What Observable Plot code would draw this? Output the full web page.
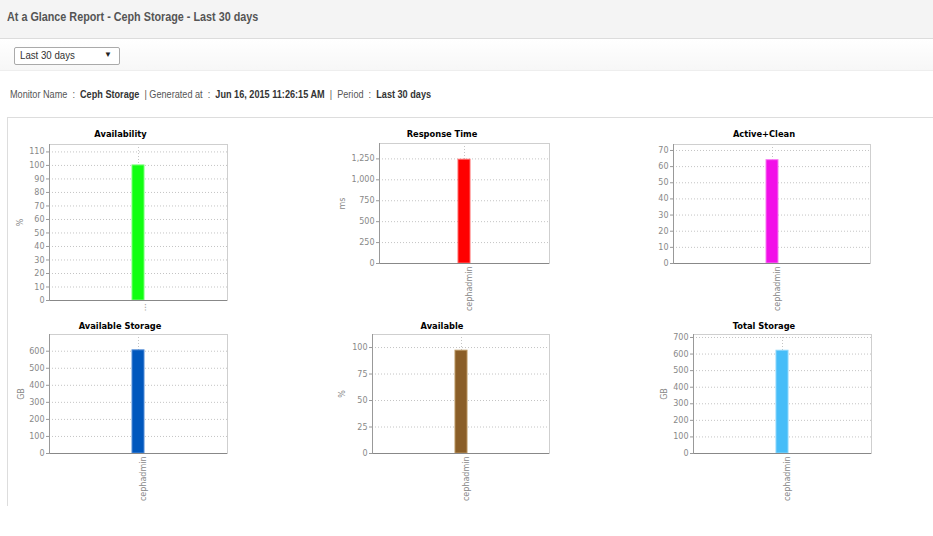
<!DOCTYPE html>
<html>
<head>
<meta charset="utf-8">
<script src="https://cdn.jsdelivr.net/npm/d3@7"></script>
<script src="https://cdn.jsdelivr.net/npm/@observablehq/plot@0.6"></script>
<style>
  html, body { margin: 0; padding: 0; background: #fff; width: 933px; height: 536px; overflow: hidden; position: relative; font-family: "Liberation Sans", Arial, sans-serif; }
  .abs { position: absolute; }
  .sq { display: inline-block; transform-origin: 0 50%; }
  #header { left: 0; top: 0; width: 933px; height: 38px; background: #f4f4f4; border-bottom: 1px solid #dcdcdc; }
  #htitle { left: 7px; top: 9px; font-size: 13px; font-weight: bold; color: #555; white-space: nowrap; transform: scaleX(0.83); }
  #band { left: 0; top: 39px; width: 933px; height: 31px; background: linear-gradient(#ffffff, #f7f7f7); border-bottom: 1px solid #eee; }
  #select { left: 14px; top: 47px; width: 104px; height: 16px; border: 1px solid #aaa; border-radius: 2px; background: #fff; font-size: 11px; color: #333; }
  #select span.t { position: absolute; left: 5px; top: 1px; transform: scaleX(0.88); transform-origin: 0 50%; white-space: nowrap; }
  #select span.a { position: absolute; right: 7px; top: 2px; font-size: 8px; color: #222; }
  #meta { left: 10px; top: 88px; font-size: 11px; color: #555; white-space: nowrap; transform: scaleX(0.83); }
  #meta b { color: #333; }
  #panel { left: 7px; top: 117px; width: 926px; height: 388px; border-left: 1px solid #ddd; border-top: 1px solid #ddd; }
  .ctitle { font-family: "DejaVu Sans", Verdana, sans-serif; font-weight: bold; font-size: 8.3px; color: #000; text-align: center; width: 200px; line-height: 12px; }
  svg.chart { position: absolute; background: transparent; overflow: visible; }
</style>
</head>
<body>
<div id="header" class="abs"></div>
<div id="htitle" class="abs sq">At a Glance Report - Ceph Storage - Last 30 days</div>
<div id="band" class="abs"></div>
<div id="select" class="abs"><span class="t">Last 30 days</span><span class="a">▼</span></div>
<div id="meta" class="abs sq">Monitor Name&nbsp; : &nbsp;<b>Ceph Storage</b>&nbsp; | Generated at&nbsp; : &nbsp;<b>Jun 16, 2015 11:26:15 AM</b>&nbsp; | &nbsp;Period&nbsp; : &nbsp;<b>Last 30 days</b></div>
<div id="panel" class="abs"></div>
<script>
// ---- data ----
const chartTitles = ["Availability", "Response Time", "Active+Clean", "Available Storage", "Available", "Total Storage"];
const unitLabels = ["%", "ms", "", "GB", "%", "GB"];
const hostLabels = ["...", "cephadmin", "cephadmin", "cephadmin", "cephadmin", "cephadmin"];
const barValues = [100, 1240, 64, 605, 97, 620];
const yDomainMax = [115.5, 1434, 73.7, 698, 112.3, 718];
const yTicks = [
  [0, 10, 20, 30, 40, 50, 60, 70, 80, 90, 100, 110],
  [0, 250, 500, 750, 1000, 1250],
  [0, 10, 20, 30, 40, 50, 60, 70],
  [0, 100, 200, 300, 400, 500, 600],
  [0, 25, 50, 75, 100],
  [0, 100, 200, 300, 400, 500, 600, 700]
];
const barColors = ["#11ff11", "#ff0000", "#f20fe8", "#0057bd", "#8a5e28", "#46bdf8"];
const barStrokes = ["#77ff77", "#ff6666", "#f77cf2", "#4f8ad6", "#b8935f", "#8ad6fb"];

// ---- layout (frame left/right/top/bottom, title centre, label centre) ----
const layout = [
  {col: 0,   w: 250, fl: 49,  fr: 227, ft: 144, fb: 300, tcx: 120.5, tcy: 134, lcx: 20},
  {col: 320, w: 250, fl: 379, fr: 549, ft: 143, fb: 263, tcx: 442,   tcy: 134, lcx: 342.5},
  {col: 640, w: 290, fl: 673, fr: 870, ft: 144, fb: 263, tcx: 764,   tcy: 134, lcx: null},
  {col: 0,   w: 250, fl: 49,  fr: 227, ft: 334, fb: 453, tcx: 120,   tcy: 326, lcx: 21},
  {col: 320, w: 250, fl: 372, fr: 549, ft: 334, fb: 453, tcx: 442,   tcy: 326, lcx: 342.7},
  {col: 640, w: 290, fl: 693, fr: 871, ft: 334, fb: 453, tcx: 764,   tcy: 326, lcx: 664}
];

const fmt = d3.format(",");
chartTitles.forEach((title, i) => {
  const L = layout[i];
  const top = L.ft - 20;
  const mb = 55;
  const height = L.fb - top + mb;
  const fw = L.fr - L.fl;
  const pad = (fw - 12) / (fw + 12);
  const data = [{host: hostLabels[i], value: barValues[i]}];
  const svg = Plot.plot({
    width: L.w,
    height,
    marginLeft: L.fl - L.col,
    marginRight: L.col + L.w - L.fr,
    marginTop: 20,
    marginBottom: mb,
    style: {fontFamily: "'DejaVu Sans', Verdana, sans-serif", fontSize: "8px", background: "transparent", overflow: "visible"},
    x: {type: "band", domain: [hostLabels[i]], padding: pad, label: null},
    y: {domain: [0, yDomainMax[i]], label: null},
    marks: [
      Plot.gridY(yTicks[i], {stroke: "#c4c4c4", strokeOpacity: 1, strokeDasharray: "1,2"}),
      Plot.gridX({stroke: "#c4c4c4", strokeOpacity: 1, strokeDasharray: "1,2"}),
      Plot.frame({stroke: "#cfcfcf"}),
      Plot.barY(data, {x: "host", y: "value", fill: barColors[i], stroke: barStrokes[i], strokeWidth: 1}),
      Plot.axisY(yTicks[i], {
        tickSize: 3, tickPadding: 2, stroke: "#999", color: "#888",
        tickFormat: fmt,
        label: unitLabels[i] || null,
        labelAnchor: "center", labelArrow: "none",
        labelOffset: L.lcx == null ? 30 : (L.fl - L.lcx + 3.5),
        fontSize: 8
      }),
      Plot.axisX({tickSize: 0, tickPadding: 3, tickRotate: -90, color: "#888", dx: 5, label: null, fontSize: 8}),
      Plot.ruleY([0], {stroke: "#888"}),
      Plot.frame({anchor: "left", stroke: "#999"})
    ]
  });
  svg.classList.add("chart");
  svg.style.left = L.col + "px";
  svg.style.top = top + "px";
  document.body.appendChild(svg);

  const t = document.createElement("div");
  t.className = "abs ctitle";
  t.textContent = title;
  t.style.left = (L.tcx - 100) + "px";
  t.style.top = (L.tcy - 6) + "px";
  document.body.appendChild(t);
});
</script>
</body>
</html>
